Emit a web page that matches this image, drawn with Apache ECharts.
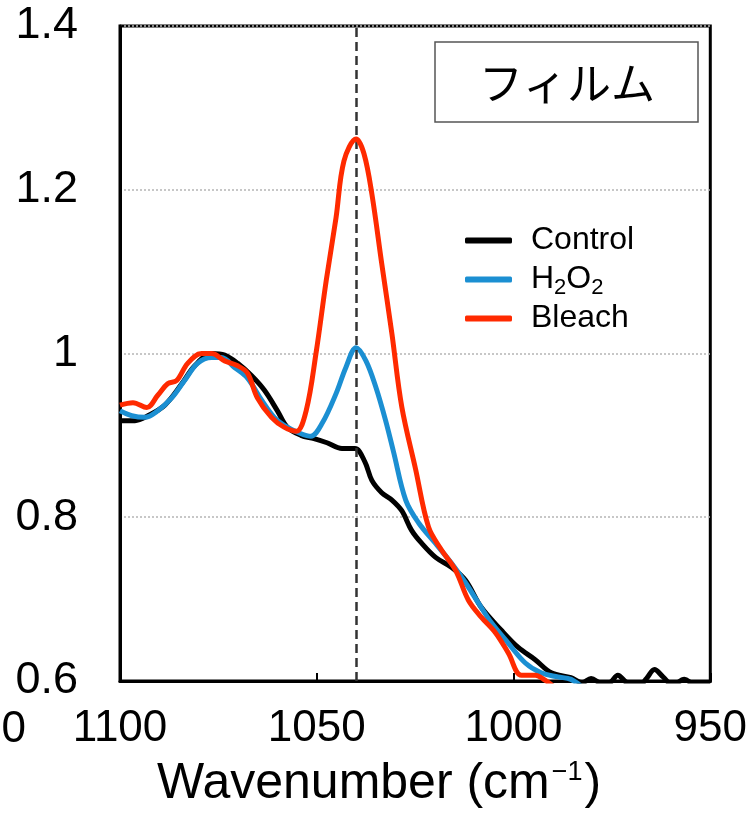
<!DOCTYPE html>
<html>
<head>
<meta charset="utf-8">
<script src="https://cdn.jsdelivr.net/npm/echarts@6/dist/echarts.min.js"></script>
<style>
  html, body { margin: 0; padding: 0; background: #fff; }
  #chart { width: 750px; height: 815px; }
</style>
</head>
<body>
<div id="chart"></div>
<script>
// wavenumber (cm-1) / normalized absorbance
const controlX = [1100, 1096.2, 1092.9, 1088.6, 1084.3, 1081, 1076.7, 1073.4, 1070.1, 1066.6, 1063.3, 1060, 1057.5, 1054, 1050.7, 1047.4, 1043.6, 1040.3, 1037.8, 1036, 1033.5, 1030.9, 1028.4, 1025.9, 1023.3, 1019.8, 1015.8, 1012.2, 1008.2, 1003.1, 998.8, 994.5, 990.4, 985.4, 982.5, 980.3, 977.5, 975.5, 973.5, 971.2, 968, 966.2, 964.2, 962, 959.5, 956.6, 954, 950];
const controlY = [0.918, 0.918, 0.924, 0.937, 0.963, 0.985, 1.0, 0.998, 0.988, 0.973, 0.955, 0.930, 0.910, 0.900, 0.896, 0.891, 0.884, 0.884, 0.868, 0.845, 0.830, 0.821, 0.808, 0.784, 0.768, 0.751, 0.739, 0.723, 0.690, 0.662, 0.641, 0.626, 0.610, 0.604, 0.598, 0.603, 0.597, 0.598, 0.607, 0.598, 0.595, 0.603, 0.614, 0.605, 0.595, 0.602, 0.596, 0.596];

const h2o2X = [1100, 1097, 1093.7, 1090.4, 1086.8, 1083.6, 1080.3, 1076.7, 1074.2, 1070.9, 1067.6, 1064, 1060.8, 1057.5, 1054, 1051.5, 1048.6, 1045.1, 1042.6, 1040, 1037.5, 1035, 1032.5, 1030.5, 1027.4, 1024.1, 1019.8, 1015.8, 1012.2, 1008.9, 1005.6, 1001.3, 997, 993, 988.7, 985.4, 982];
const h2o2Y = [0.930, 0.924, 0.922, 0.930, 0.946, 0.967, 0.988, 0.995, 0.995, 0.983, 0.970, 0.943, 0.922, 0.910, 0.902, 0.899, 0.915, 0.951, 0.983, 1.007, 0.991, 0.959, 0.918, 0.880, 0.821, 0.793, 0.768, 0.744, 0.720, 0.695, 0.671, 0.646, 0.622, 0.610, 0.605, 0.602, 0.590];

const bleachX = [1100, 1096.7, 1093.2, 1090.4, 1087.9, 1085.6, 1082.8, 1079.3, 1076.7, 1073.4, 1070.1, 1067.6, 1065.1, 1061.5, 1058.3, 1055.2, 1052.7, 1050.2, 1047.6, 1045.1, 1043.1, 1040, 1038, 1036, 1033.5, 1030.9, 1028.4, 1024.9, 1021.6, 1018.3, 1014.7, 1011.5, 1008.2, 1004.6, 1001.3, 998, 994.5, 992, 989];
const bleachY = [0.937, 0.940, 0.934, 0.949, 0.963, 0.967, 0.988, 1.0, 1.0, 0.991, 0.985, 0.976, 0.946, 0.922, 0.910, 0.905, 0.930, 1.0, 1.089, 1.166, 1.235, 1.262, 1.244, 1.195, 1.110, 1.024, 0.935, 0.859, 0.788, 0.760, 0.735, 0.699, 0.678, 0.659, 0.634, 0.607, 0.607, 0.601, 0.590];

const seriesNames = ['Control', 'H2O2', 'Bleach'];
const seriesColors = ['#000000', '#1b8fd2', '#ff2a00'];
const xTicks = [950, 1000, 1050, 1100];
const yTickLabels = {'0.6': '0.6', '0.8': '0.8', '1': '1', '1.2': '1.2', '1.4': '1.4'};
const peakLine = 1040;
const panelTitle = 'フィルム';
const axisTitle = 'Wavenumber (cm{sup|−1})';

const pairs = (xs, ys) => xs.map((x, i) => [x, ys[i]]);
const allData = [pairs(controlX, controlY), pairs(h2o2X, h2o2Y), pairs(bleachX, bleachY)];

const font = 'Liberation Sans, Arial, sans-serif';
const myChart = echarts.init(document.getElementById('chart'));

myChart.setOption({
  backgroundColor: '#fff',
  animation: false,
  grid: {
    left: 120, right: 37, top: 26, bottom: 134,
    show: true, borderColor: '#000', borderWidth: 3
  },
  legend: {
    orient: 'vertical',
    left: 460, top: 216,
    icon: 'roundRect',
    itemWidth: 47, itemHeight: 6,
    itemGap: 0,
    data: seriesNames,
    formatter(name) {
      return name === 'H2O2' ? 'H{s|2}O{s|2}' : name;
    },
    textStyle: {
      fontFamily: font, fontSize: 32, color: '#000', lineHeight: 39,
      padding: [0, 0, 0, 14],
      rich: {
        s: {fontFamily: font, fontSize: 22, color: '#000', lineHeight: 34, verticalAlign: 'bottom'}
      }
    }
  },
  xAxis: {
    type: 'value',
    inverse: true,
    min: 950, max: 1100, interval: 50,
    name: axisTitle,
    nameLocation: 'middle',
    nameGap: 78,
    nameTextStyle: {
      fontFamily: font, fontSize: 50, color: '#000',
      padding: [0, 72, 0, 0],
      rich: {
        sup: {fontFamily: font, fontSize: 27, color: '#000', verticalAlign: 'top', padding: [0, 2, 22, 2]}
      }
    },
    axisLine: {show: true, lineStyle: {color: '#000', width: 3}},
    axisTick: {show: true, inside: true, length: 8, lineStyle: {color: '#000', width: 2}},
    axisLabel: {
      fontFamily: font, fontSize: 44, color: '#000', margin: 26,
      formatter: v => xTicks.includes(v) ? String(v) : ''
    },
    splitLine: {show: false}
  },
  yAxis: {
    type: 'value',
    min: 0.6, max: 1.4, interval: 0.2,
    axisLine: {show: true, lineStyle: {color: '#000', width: 3}},
    axisTick: {show: false},
    axisLabel: {
      fontFamily: font, fontSize: 45, color: '#000', margin: 42,
      padding: [14, 0, 0, 0],
      formatter: v => yTickLabels[String(Math.round(v * 10) / 10)] || ''
    },
    splitLine: {show: true, lineStyle: {color: '#b5b5b5', width: 1.5, type: [2, 2]}}
  },
  graphic: [
    {
      type: 'rect', z: 10,
      shape: {x: 435, y: 42, width: 263, height: 80},
      style: {fill: '#fff', stroke: '#555', lineWidth: 1.5}
    },
    {
      type: 'text', z: 11, x: 567, y: 83,
      style: {text: panelTitle, font: '44px "Noto Sans CJK JP"', fill: '#000', textAlign: 'center', textVerticalAlign: 'middle'}
    },
    {
      type: 'text', x: 26, y: 730,
      style: {text: '1150', font: '44px ' + font, fill: '#000', textAlign: 'right', textVerticalAlign: 'middle'}
    }
  ],
  series: seriesNames.map((name, i) => ({
    name,
    type: 'line',
    data: allData[i],
    smooth: 0.35,
    showSymbol: false,
    symbol: 'none',
    clip: true,
    z: 3 + i,
    lineStyle: {color: seriesColors[i], width: 5},
    itemStyle: {color: seriesColors[i]},
    markLine: i === 0 ? {
      silent: true,
      symbol: 'none',
      label: {show: false},
      lineStyle: {color: '#333', width: 2.5, type: [9, 5]},
      data: [{xAxis: peakLine}]
    } : undefined
  }))
});
</script>
</body>
</html>
